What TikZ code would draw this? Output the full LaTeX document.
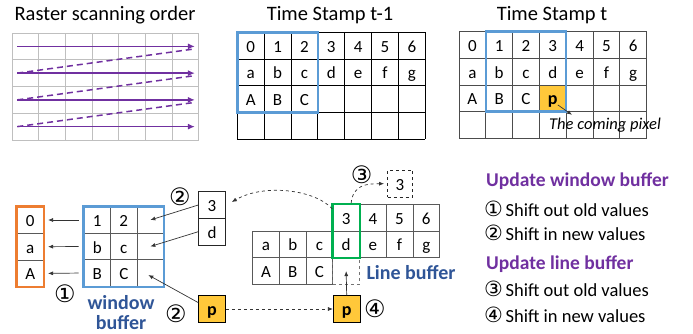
\documentclass[tikz,border=0pt]{standalone}
\usepackage{fontspec}
\setmainfont{Carlito}
\newfontfamily\circfont{DejaVu Sans}
\usetikzlibrary{arrows.meta}
\definecolor{winblue}{HTML}{5B9BD5}
\definecolor{outorange}{HTML}{ED7D31}
\definecolor{linegreen}{HTML}{00B050}
\definecolor{pixyellow}{HTML}{FFC83A}
\definecolor{headpurple}{HTML}{7030A0}
\definecolor{labelblue}{HTML}{2F5597}
\tikzset{
  txt/.style={inner sep=0pt, text height=13pt, text depth=0pt, font=\fontsize{17}{17}\selectfont},
  cell/.style={txt, draw=black!65, line width=0.8pt, minimum width=26.7pt, minimum height=26.7pt},
  pbox/.style={cell, draw=black, fill=pixyellow, font=\bfseries\fontsize{18}{18}\selectfont},
  winbox/.style={winblue, line width=2.5pt},
  scan/.style={headpurple, line width=1.5pt},
  arrs/.style={-{Latex[length=5pt,width=4pt]}, line width=0.7pt, black!80},
  circnum/.style={inner sep=0pt, font=\circfont\fontsize{24}{24}\selectfont},
  title/.style={anchor=base, inner sep=0pt, font=\fontsize{20.5}{20.5}\selectfont},
  head/.style={anchor=base west, inner sep=0pt, text=headpurple, font=\bfseries\fontsize{19.5}{19.5}\selectfont},
  item/.style={anchor=base west, inner sep=0pt, font=\fontsize{18.5}{18.5}\selectfont},
  buflabel/.style={inner sep=0pt, text=labelblue, align=center, font=\bfseries\fontsize{20}{20}\selectfont}
}
\newcommand\stepmark[1]{\makebox[21.5pt][l]{\circfont\fontsize{21}{21}\selectfont #1}}
\begin{document}
\begin{tikzpicture}[x=1pt, y=-1pt]
  \useasboundingbox (0,0) rectangle (693,333);
  % titles
  \node [title] (t-raster) at (105,20.7) {Raster scanning order};
  \node [title] (t-prev) at (330,20.5) {Time Stamp t-1};
  \node [title] (t-now) at (552,20.5) {Time Stamp t};
  %
  % raster scanning grid
  \begin{scope}[shift={(12,33)}, x=26.7pt, y=-26.75pt]
    \foreach \c in {0,...,7} \draw [black!25, line width=1pt] (\c,0) -- (\c,4);
    \foreach \r in {0,...,4} \draw [black!25, line width=1pt] (0,\r) -- (7,\r);
    \foreach \r in {0,...,3}
      \draw [scan, -{Latex[length=7pt,width=6pt]}] (0.2,\r+0.5) -- (6.85,\r+0.5);
    \foreach \r in {0,1,2}
      \draw [scan, dashed, dash pattern=on 6pt off 4pt] (0.2,\r+1.5) -- (6.8,\r+0.6);
  \end{scope}
  %
  % time stamp t-1
  \begin{scope}[shift={(237.3,32.3)}, x=26.85pt, y=-26.7pt]
    \foreach \c in {0,...,7} \draw [black, line width=0.8pt] (\c,0) -- (\c,4);
    \foreach \r in {0,...,4} \draw [black, line width=0.8pt] (0,\r) -- (7,\r);
    \foreach \t [count=\c from 0] in {0,...,6} \node [txt] (ta-0-\c) at (\c+0.5,0.5) {\t};
    \foreach \t [count=\c from 0] in {a,b,c,d,e,f,g} \node [txt] (ta-1-\c) at (\c+0.5,1.5) {\t};
    \foreach \t [count=\c from 0] in {A,B,C} \node [txt] (ta-2-\c) at (\c+0.5,2.5) {\t};
    \draw [winbox] (0,0) rectangle (3,3);
  \end{scope}
  %
  % time stamp t
  \begin{scope}[shift={(459,31.7)}, x=26.8pt, y=-26.6pt]
    \fill [pixyellow] (3,2) rectangle (4,3);
    \foreach \c in {0,...,7} \draw [black!70, line width=0.8pt] (\c,0) -- (\c,4);
    \foreach \r in {0,...,4} \draw [black!70, line width=0.8pt] (0,\r) -- (7,\r);
    \foreach \t [count=\c from 0] in {0,...,6} \node [txt] (tb-0-\c) at (\c+0.5,0.5) {\t};
    \foreach \t [count=\c from 0] in {a,b,c,d,e,f,g} \node [txt] (tb-1-\c) at (\c+0.5,1.5) {\t};
    \foreach \t [count=\c from 0] in {A,B,C} \node [txt] (tb-2-\c) at (\c+0.5,2.5) {\t};
    \node [txt, font=\bfseries\fontsize{18}{18}\selectfont] (tb-p) at (3.5,2.5) {p};
    \draw [winbox] (1,0) rectangle (4,3);
  \end{scope}
  \node [anchor=base west, inner sep=0pt, font=\itshape\fontsize{16.5}{16.5}\selectfont] (coming) at (549,129.5) {The coming pixel};
  \draw [arrs] (tb-p.south east) -- ([shift={(23,-3)}]coming.north west);
  %
  % shifted out column
  \foreach \t [count=\r from 0] in {0,a,A}
    \node [cell] (o-\r) at (30.3,220+26.7*\r) {\t};
  \draw [outorange, line width=2.5pt] (o-0.north west) rectangle (o-2.south east);
  %
  % window buffer
  \foreach \t [count=\c from 0] in {1,2,} \node [cell] (w-0-\c) at (97.3+26.5*\c,220) {\t};
  \foreach \t [count=\c from 0] in {b,c,} \node [cell] (w-1-\c) at (97.3+26.5*\c,246.5) {\t};
  \foreach \t [count=\c from 0] in {B,C,} \node [cell] (w-2-\c) at (97.3+26.5*\c,273) {\t};
  \draw [winbox] (w-0-0.north west) rectangle (w-2-2.south east);
  \node [buflabel] (wlabel) at (121,312.5) {window\\buffer};
  %
  % new column and coming pixel
  \node [cell, draw=black!85] (n3) at (212,205) {3};
  \node [cell, draw=black!85] (nd) at (212,231.7) {d};
  \node [pbox] (pw) at (212,309) {p};
  \node [pbox] (pl) at (346.7,309) {p};
  %
  % line buffer
  \foreach \t [count=\c from 3] in {3,4,5,6} \node [cell] (l-0-\c) at (266.05+26.7*\c,217.7) {\t};
  \foreach \t [count=\c from 0] in {a,b,c,d,e,f,g} \node [cell] (l-1-\c) at (266.05+26.7*\c,244.4) {\t};
  \foreach \t [count=\c from 0] in {A,B,C} \node [cell] (l-2-\c) at (266.05+26.7*\c,271.1) {\t};
  \node [cell, draw=black!55, dashed] (l-2-3) at (346.15,271.1) {};
  \draw [linegreen, line width=2.5pt] (l-0-3.north west) rectangle (l-1-3.south east);
  \node [cell, draw=black!85, dashed, minimum width=25pt, minimum height=27pt] (out3) at (400,183.7) {3};
  \node [buflabel, anchor=base] (llabel) at (411,279.5) {Line buffer};
  %
  % connectors
  \foreach \r in {0,1,2}
    \draw [arrs, shorten <=5pt, shorten >=4pt] (w-\r-0.west) -- (o-\r.east);
  \draw [arrs] (n3.west) -- (w-0-2.center);
  \draw [arrs] (nd.west) -- (w-1-2.center);
  \draw [arrs] (pw.155) -- ([shift={(-2,2)}]w-2-2.center);
  \draw [arrs, dashed] (pw.east) -- (pl.west);
  \draw [arrs] (pl.north) -- (l-2-3.center);
  \draw [arrs, dashed] ([yshift=-5pt]l-0-3.north west) .. controls +(-17,-19) and +(33,-19) .. ([shift={(6,-3)}]n3.east);
  \draw [arrs, dashed] ([shift={(5,-1)}]l-0-3.north) .. controls +(2,-18) and +(-18,0) .. ([xshift=-3pt]out3.west);
  %
  % step numbers
  \node [circnum] (c1) at (65,293.3) {①};
  \node [circnum] (c2a) at (180,196.7) {②};
  \node [circnum] (c2b) at (176,313.3) {②};
  \node [circnum] (c3) at (361.7,175) {③};
  \node [circnum] (c4) at (375,308.3) {④};
  %
  % legend
  \node [head] (h-win) at (486,186.7) {Update window buffer};
  \node [item] (i-1) at (484,216) {\stepmark{①}Shift out old values};
  \node [item] (i-2) at (484,240) {\stepmark{②}Shift in new values};
  \node [head] (h-line) at (486,269.3) {Update line buffer};
  \node [item] (i-3) at (484,296.7) {\stepmark{③}Shift out old values};
  \node [item] (i-4) at (484,322.7) {\stepmark{④}Shift in new values};
\end{tikzpicture}
\end{document}
